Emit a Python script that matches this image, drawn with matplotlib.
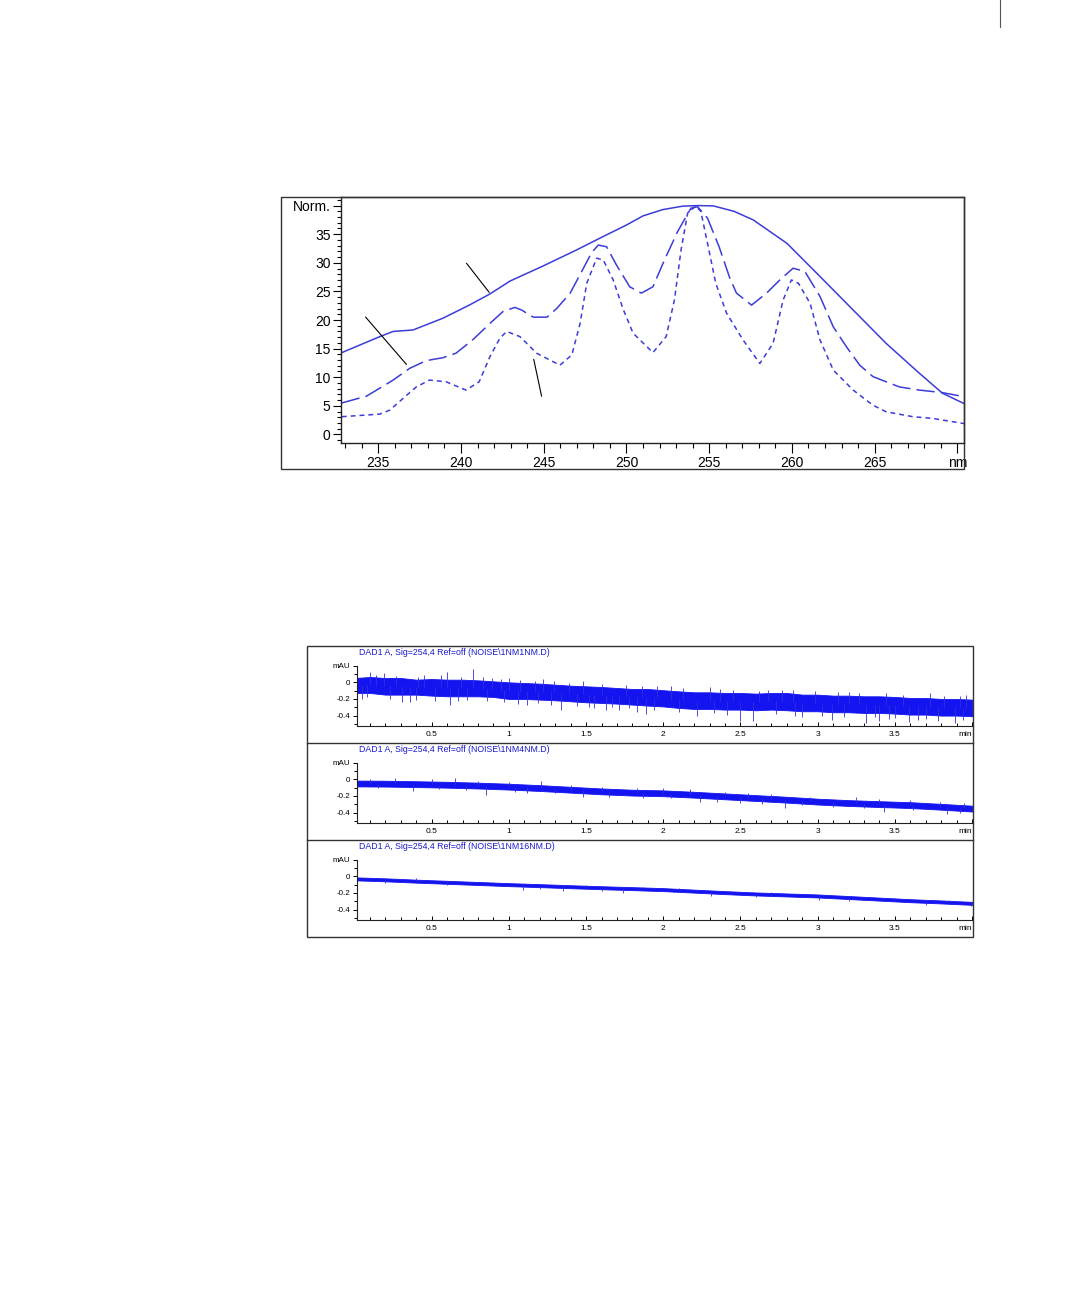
import matplotlib
matplotlib.use("Agg")
import matplotlib.pyplot as plt
from matplotlib.patches import Rectangle
from matplotlib.lines import Line2D
from matplotlib.ticker import MultipleLocator
import numpy as np

plt.rcParams['font.family'] = ['Liberation Sans', 'DejaVu Sans']

W, H = 1080, 1298
BLUE = '#3c3cd8'
TRACE = '#1414f0'

# ---- spectra (wavelength nm, Norm.) ----
broad_x = [232.8, 235.1, 235.9, 237.1, 238.9, 240.5, 241.75, 242.96, 244.97, 246.99,
           248.6, 250.0, 251.0, 252.2, 253.4, 254.3, 255.24, 256.5, 257.66, 259.7,
           261.7, 263.7, 265.7, 267.7, 269.1, 270.4]
broad_y = [14.3, 17.1, 18.0, 18.25, 20.3, 22.6, 24.55, 26.8, 29.45, 32.25,
           34.6, 36.6, 38.2, 39.3, 39.9, 40.0, 39.95, 39.0, 37.5, 33.4,
           27.6, 21.75, 15.9, 10.7, 7.2, 5.4]

mid_x = [232.8, 234.3, 235.9, 236.9, 237.9, 238.9, 239.7, 240.7, 241.75, 242.55,
         243.26, 243.66, 244.37, 245.2, 245.8, 246.6, 247.4, 247.9, 248.3, 248.8, 249.4,
         250.2, 250.9, 251.6, 252.3, 253.1, 253.9, 254.3, 254.9, 255.6, 256.25,
         256.65, 257.56, 258.47, 259.27, 260.07, 260.78, 261.7, 262.5, 263.3, 264.1,
         264.9, 266.5, 267.7, 269.1, 270.4]
mid_y = [5.5, 6.7, 9.5, 11.55, 12.9, 13.4, 14.2, 16.5, 19.4, 21.5,
         22.2, 21.75, 20.5, 20.5, 22.05, 24.7, 29.05, 31.8, 33.1, 32.8, 29.6,
         25.8, 24.7, 25.8, 30.5, 35.5, 39.55, 39.8, 37.8, 32.8, 27.3,
         24.7, 22.6, 24.7, 27.0, 29.05, 28.5, 24.1, 18.8, 15.3, 12.1,
         10.1, 8.3, 7.75, 7.3, 6.6]

narrow_x = [232.8, 235.1, 235.7, 236.5, 237.3, 238.1, 239.1, 240.3, 241.1, 241.75,
            242.35, 242.76, 243.56, 244.57, 245.98, 246.7, 247.2, 247.6, 248.2, 248.6,
            249.2, 249.8, 250.4, 251.6, 252.4, 252.9, 253.3, 253.7, 254.2, 254.5,
            254.9, 255.4, 256.05, 257.05, 258.06, 258.86, 259.47, 259.97, 260.4, 261.1,
            261.7, 262.5, 263.7, 264.9, 265.7, 267.3, 268.5, 270.4]
narrow_y = [3.1, 3.55, 4.25, 6.3, 8.3, 9.5, 9.2, 7.75, 9.2, 13.6,
            16.8, 18.0, 17.1, 14.2, 12.1, 13.9, 19.4, 26.4, 30.8, 30.5,
            27.0, 21.9, 17.7, 14.3, 17.1, 23.5, 32.25, 38.7, 39.95, 38.95,
            33.4, 26.4, 21.2, 16.5, 12.4, 15.9, 23.5, 27.0, 26.4, 22.9,
            16.5, 11.25, 7.75, 5.1, 3.95, 3.1, 2.8, 1.9]

# pointer lines (x0, y0, x1, y1) in data units
pointers = [(240.34, 29.9, 241.7, 24.85),
            (234.24, 20.5, 236.7, 12.25),
            (244.4, 13.1, 244.87, 6.7)]

# ---- noise traces (min, mAU) ----
t_fine = [0.0, 0.1, 0.2, 0.3, 0.4, 0.5, 0.6, 0.7, 0.8, 0.9, 1.0,
          1.1, 1.2, 1.3, 1.4, 1.5, 1.6, 1.7, 1.8, 1.9, 2.0,
          2.1, 2.2, 2.3, 2.4, 2.5, 2.6, 2.7, 2.8, 2.9, 3.0,
          3.1, 3.2, 3.3, 3.4, 3.5, 3.6, 3.7, 3.8, 3.9, 4.0]
hi_1nm = [0.052, 0.064, 0.052, 0.052, 0.032, 0.04, 0.032, 0.032, 0.024, 0.012, 0.0,
          -0.008, -0.016, -0.028, -0.04, -0.048, -0.056, -0.068, -0.08, -0.08, -0.095,
          -0.108, -0.12, -0.12, -0.128, -0.128, -0.136, -0.128, -0.128, -0.148, -0.148,
          -0.16, -0.16, -0.168, -0.168, -0.176, -0.188, -0.188, -0.2, -0.2, -0.208]
lo_1nm = [-0.128, -0.128, -0.148, -0.148, -0.148, -0.16, -0.168, -0.168, -0.168, -0.176, -0.2,
          -0.2, -0.208, -0.216, -0.228, -0.24, -0.248, -0.256, -0.268, -0.28, -0.29,
          -0.308, -0.32, -0.32, -0.328, -0.328, -0.336, -0.328, -0.336, -0.348, -0.348,
          -0.36, -0.36, -0.368, -0.368, -0.376, -0.388, -0.388, -0.4, -0.4, -0.408]
spikes_1nm = [(0.1, 0.12), (0.19, 0.112), (0.31, -0.24), (0.36, -0.24), (0.6, 0.12),
              (0.62, -0.268), (0.77, 0.16), (0.89, 0.052), (1.0, 0.052), (1.115, -0.268),
              (1.34, -0.328), (1.48, 0.012), (1.63, -0.328), (1.71, -0.328), (1.83, -0.36),
              (1.89, -0.376), (1.96, -0.048), (2.05, -0.04), (2.22, -0.408), (2.3, -0.056),
              (2.5, -0.468), (2.58, -0.468), (2.77, -0.088), (3.09, -0.456), (3.31, -0.488),
              (3.4, -0.468), (3.5, -0.428), (3.59, -0.48), (3.73, -0.128), (3.89, -0.488),
              (3.96, -0.148), (0.45, 0.09), (0.52, -0.23), (1.22, 0.04), (1.55, -0.31),
              (2.68, -0.09), (2.9, -0.42), (3.2, -0.12), (3.65, -0.45), (0.05, -0.2),
              (0.14, 0.09), (0.27, 0.08), (0.41, 0.07), (0.56, 0.085), (0.69, 0.06),
              (0.83, 0.06), (0.95, 0.04), (1.07, 0.03), (1.17, 0.02), (1.29, 0.01),
              (1.39, -0.005), (1.6, -0.02), (1.76, -0.03), (1.86, -0.05), (2.13, -0.07),
              (2.37, -0.08), (2.45, -0.09), (2.62, -0.1), (2.84, -0.09), (2.98, -0.11),
              (3.13, -0.12), (3.27, -0.13), (3.44, -0.13), (3.55, -0.15), (3.82, -0.16),
              (3.92, -0.17), (0.08, -0.18), (0.23, -0.2), (0.4, -0.21), (0.67, -0.22),
              (0.73, -0.21), (0.86, -0.23), (0.97, -0.24), (1.06, -0.26), (1.19, -0.25),
              (1.27, -0.27), (1.44, -0.28), (1.52, -0.3), (1.67, -0.3), (1.78, -0.31),
              (1.94, -0.33), (2.1, -0.36), (2.33, -0.37), (2.41, -0.39), (2.73, -0.38),
              (2.85, -0.4), (3.03, -0.41), (3.17, -0.42), (3.37, -0.42), (3.46, -0.44),
              (3.7, -0.44), (3.78, -0.46), (3.94, -0.45)]

t_coarse = [0.0, 0.2, 0.4, 0.6, 0.8, 1.0, 1.2, 1.4, 1.6, 1.8, 2.0,
            2.2, 2.4, 2.6, 2.8, 3.0, 3.2, 3.4, 3.6, 3.8, 4.0]
hi_4nm = [-0.015, -0.017, -0.023, -0.03, -0.04, -0.053, -0.07, -0.09, -0.11, -0.125, -0.133,
          -0.15, -0.17, -0.19, -0.21, -0.233, -0.25, -0.263, -0.275, -0.295, -0.317]
lo_4nm = [-0.085, -0.087, -0.093, -0.1, -0.11, -0.123, -0.14, -0.16, -0.18, -0.195, -0.203,
          -0.22, -0.24, -0.26, -0.28, -0.303, -0.32, -0.333, -0.345, -0.365, -0.387]
spikes_4nm = [(0.26, 0.012), (0.65, 0.012), (1.21, -0.02), (1.83, -0.1), (2.17, -0.116),
              (2.55, -0.168), (3.25, -0.208), (3.79, -0.268), (0.38, -0.14), (0.85, -0.188),
              (1.04, -0.156), (1.48, -0.208), (1.87, -0.228), (2.24, -0.268), (2.64, -0.3),
              (2.79, -0.348), (3.43, -0.388), (3.84, -0.42),
              (0.1, 0.0), (0.5, 0.0), (0.8, -0.02), (1.0, -0.03), (1.4, -0.07),
              (1.6, -0.09), (2.0, -0.11), (2.4, -0.15), (2.7, -0.18), (2.95, -0.21),
              (3.4, -0.24), (3.6, -0.25), (3.95, -0.29), (0.15, -0.11), (0.55, -0.12),
              (0.72, -0.13), (1.12, -0.16), (1.3, -0.17), (1.65, -0.21), (2.05, -0.23),
              (2.35, -0.27), (2.5, -0.28), (2.9, -0.31), (3.1, -0.33), (3.3, -0.35),
              (3.62, -0.37), (3.92, -0.41)]

hi_16nm = [-0.012, -0.024, -0.04, -0.054, -0.068, -0.082, -0.094, -0.107, -0.119, -0.13, -0.142,
           -0.16, -0.178, -0.194, -0.206, -0.218, -0.237, -0.256, -0.275, -0.29, -0.307]
lo_16nm = [-0.048, -0.06, -0.076, -0.09, -0.104, -0.118, -0.13, -0.143, -0.155, -0.166, -0.178,
           -0.196, -0.214, -0.23, -0.242, -0.254, -0.273, -0.292, -0.311, -0.326, -0.343]
spikes_16nm = [(0.2, -0.08), (1.09, -0.16), (1.35, -0.172), (1.74, -0.2), (1.87, -0.132),
               (2.31, -0.232), (2.44, -0.172), (3.01, -0.28), (3.31, -0.252), (3.99, -0.36),
               (0.4, -0.025), (0.9, -0.07), (1.5, -0.11), (2.1, -0.14), (2.7, -0.19),
               (3.5, -0.26), (3.85, -0.28), (0.6, -0.105), (1.2, -0.15), (1.6, -0.18),
               (2.6, -0.25), (3.2, -0.3), (3.7, -0.34)]

titles = ['DAD1 A, Sig=254,4 Ref=off (NOISE\\1NM1NM.D)',
          'DAD1 A, Sig=254,4 Ref=off (NOISE\\1NM4NM.D)',
          'DAD1 A, Sig=254,4 Ref=off (NOISE\\1NM16NM.D)']


def rect(x0, y0, x1, y1):
    return [x0 / W, 1 - y1 / H, (x1 - x0) / W, (y1 - y0) / H]


fig = plt.figure(figsize=(W / 100, H / 100), dpi=100)

# small mark at the page corner
fig.add_artist(Line2D([1000 / W, 1000 / W], [1, 1 - 27 / H], color='#555555', lw=0.8))

# ================= spectrum chart =================
fig.add_artist(Rectangle((281 / W, 1 - 469 / H), (964 - 281) / W, (469 - 197) / H,
                         transform=fig.transFigure, fill=False, ec='#333333', lw=1.0))
ax = fig.add_axes(rect(341, 197, 964, 443))
ax.plot(broad_x, broad_y, color=BLUE, lw=1.1)
ax.plot(mid_x, mid_y, color=BLUE, lw=1.1, ls=(0, (12, 4)))
ax.plot(narrow_x, narrow_y, color=BLUE, lw=1.1, ls=(0, (3.2, 2.6)))
for x0, y0, x1, y1 in pointers:
    ax.plot([x0, x1], [y0, y1], color='black', lw=0.8)

ax.set_xlim(232.75, 270.4)
ax.set_ylim(-1.5, 41.5)
ax.set_xticks([235, 240, 245, 250, 255, 260, 265, 270])
ax.set_xticklabels(['235', '240', '245', '250', '255', '260', '265', 'nm'])
ax.set_yticks([0, 5, 10, 15, 20, 25, 30, 35, 40])
ax.set_yticklabels(['0', '5', '10', '15', '20', '25', '30', '35', 'Norm.'])
ax.xaxis.set_minor_locator(MultipleLocator(1))
ax.yaxis.set_minor_locator(MultipleLocator(1))
ax.tick_params(axis='x', which='major', direction='out', length=7, width=0.8,
               labelsize=10, pad=2.5)
ax.tick_params(axis='x', which='minor', direction='out', length=3.5, width=0.8)
ax.tick_params(axis='y', which='major', direction='out', length=5.5, width=0.8,
               labelsize=10, pad=2)
ax.tick_params(axis='y', which='minor', direction='out', length=3, width=0.8)
for s in ax.spines.values():
    s.set_linewidth(1.0)
    s.set_color('#222222')

# ================= noise traces =================
fig.add_artist(Rectangle((307 / W, 1 - 937 / H), (973 - 307) / W, (937 - 646) / H,
                         transform=fig.transFigure, fill=False, ec='#333333', lw=1.0))
for yy in [743, 840]:
    fig.add_artist(Line2D([307 / W, 973 / W], [1 - yy / H, 1 - yy / H], color='#333333', lw=1.0))

panels = [(t_fine, hi_1nm, lo_1nm, spikes_1nm),
          (t_coarse, hi_4nm, lo_4nm, spikes_4nm),
          (t_coarse, hi_16nm, lo_16nm, spikes_16nm)]
tops = [646, 743, 840]

for (tt, hi, lo, spk), p0, title in zip(panels, tops, titles):
    a = fig.add_axes(rect(357, p0 + 19.7, 973, p0 + 80.4))
    a.fill_between(tt, lo, hi, color=TRACE, lw=0.6, ec=TRACE)
    mid = (np.array(hi) + np.array(lo)) / 2
    st = [s[0] for s in spk]
    sv = [s[1] for s in spk]
    a.vlines(st, np.interp(st, tt, mid), sv, color='#3030e0', lw=0.6)
    a.set_xlim(0.016, 4.006)
    a.set_ylim(-0.53, 0.2)
    a.set_xticks([0.5, 1, 1.5, 2, 2.5, 3, 3.5, 4.0])
    a.set_xticklabels(['0.5', '1', '1.5', '2', '2.5', '3', '3.5', 'min'])
    a.get_xticklabels()[-1].set_ha('right')
    a.set_yticks([0.2, 0, -0.2, -0.4])
    a.set_yticklabels(['mAU', '0', '-0.2', '-0.4'])
    a.xaxis.set_minor_locator(MultipleLocator(0.1))
    a.yaxis.set_minor_locator(MultipleLocator(0.1))
    a.tick_params(axis='x', which='major', direction='in', length=3, width=0.7,
                  labelsize=6, pad=3.5)
    a.tick_params(axis='x', which='minor', direction='in', length=2, width=0.7)
    a.tick_params(axis='y', which='major', direction='out', length=3, width=0.7,
                  labelsize=5.8, pad=2)
    a.tick_params(axis='y', which='minor', direction='out', length=2, width=0.7)
    a.spines['top'].set_visible(False)
    a.spines['right'].set_visible(False)
    for s in ['left', 'bottom']:
        a.spines[s].set_linewidth(0.8)
        a.spines[s].set_color('#222222')
    a.patch.set_alpha(0)
    fig.text(359 / W, 1 - (p0 + 6.7) / H, title, fontsize=6.3, color='#1a1ad0',
             va='center', ha='left')

fig.savefig('out.png', dpi=100)
